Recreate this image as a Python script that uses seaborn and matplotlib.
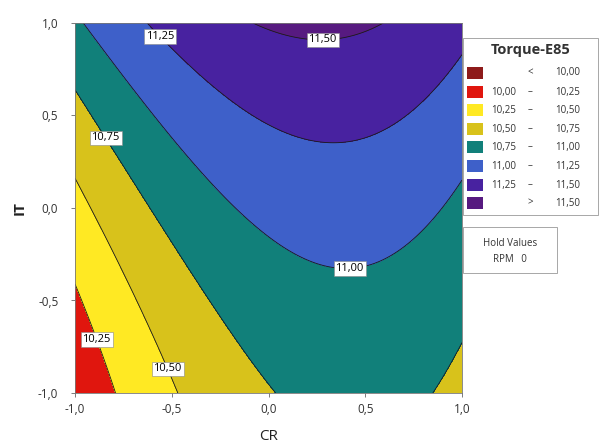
import numpy as np
import matplotlib
matplotlib.use("Agg")
import matplotlib.pyplot as plt
import seaborn as sns
from matplotlib.patches import Rectangle

sns.set_theme(style="white")
plt.rcParams['font.family'] = ['Open Sans', 'DejaVu Sans']

# ---- readings from the reference: points on each contour line (CR, IT) ----
cr_1025 = [-1.0, -0.897, -0.752]
it_1025 = [-0.389, -0.714, -1.0]

cr_1050 = [-1.0, -0.929, -0.767, -0.545, -0.473]
it_1050 = [0.205, 0.043, -0.335, -0.784, -1.0]

cr_1075 = [-1.0, -0.767, -0.716, -0.421, -0.251, -0.044, 0.034, 1.0, 0.85]
it_1075 = [0.6, 0.259, 0.151, -0.297, -0.568, -0.892, -1.0, -0.741, -1.0]

cr_1100 = [-0.922, -0.597, -0.339, -0.080, 0.163, 0.354, 0.643, 0.819, 0.922, 1.0]
it_1100 = [1.0, 0.514, 0.151, -0.081, -0.319, -0.346, -0.227, -0.081, 0.043, 0.162]

cr_1125 = [-0.680, -0.457, -0.225, 0.008, 0.214, 0.421, 0.643, 0.819, 0.99]
it_1125 = [1.0, 0.838, 0.6, 0.43, 0.335, 0.368, 0.465, 0.622, 0.8]

cr_1150 = [0.0, 0.28, 0.6]
it_1150 = [1.0, 0.925, 1.0]

# corner readings (CR, IT, Torque)
cr_corner = [-1.0, -1.0, 1.0]
it_corner = [-1.0, 1.0, 1.0]
z_corner = [10.08, 10.97, 11.33]

levels = [10.00, 10.25, 10.50, 10.75, 11.00, 11.25, 11.50]
tick_vals = [-1.0, -0.5, 0.0, 0.5, 1.0]
tick_labels = ["-1,0", "-0,5", "0,0", "0,5", "1,0"]
legend_lo = ["", "10,00", "10,25", "10,50", "10,75", "11,00", "11,25", ""]
legend_sep = ["<", "\u2013", "\u2013", "\u2013", "\u2013", "\u2013", "\u2013", ">"]
legend_hi = ["10,00", "10,25", "10,50", "10,75", "11,00", "11,25", "11,50", "11,50"]
colors = ["#8E1B1B", "#E0160E", "#FFE923", "#D8C21B", "#11807A",
          "#3E60C9", "#4822A0", "#571A80"]

# ---- response surface fitted (least squares) to the readings ----
cr_all = np.array(cr_1025 + cr_1050 + cr_1075 + cr_1100 + cr_1125 + cr_1150 + cr_corner)
it_all = np.array(it_1025 + it_1050 + it_1075 + it_1100 + it_1125 + it_1150 + it_corner)
z_all = np.array([10.25] * len(cr_1025) + [10.50] * len(cr_1050) + [10.75] * len(cr_1075)
                 + [11.00] * len(cr_1100) + [11.25] * len(cr_1125) + [11.50] * len(cr_1150)
                 + z_corner)


def terms(x, y):
    return np.stack([np.ones_like(x), x, y, x * x, x * y, y * y,
                     x ** 3, x * x * y, x * y * y, y ** 3], axis=-1)


coef, *_ = np.linalg.lstsq(terms(cr_all, it_all), z_all, rcond=None)

g = np.linspace(-1, 1, 301)
X, Y = np.meshgrid(g, g)
Z = terms(X, Y) @ coef

fig = plt.figure(figsize=(6, 4.44), dpi=100)
ax = fig.add_axes([75 / 600, 1 - 393 / 444, 387 / 600, 370 / 444])

fill_levels = [min(Z.min(), 9.9) - 1] + levels + [max(Z.max(), 11.6) + 1]
ax.contourf(X, Y, Z, levels=fill_levels, colors=colors)
cs = ax.contour(X, Y, Z, levels=levels, colors="#1a1a1a", linewidths=0.6)


def fmt(v):
    return f"{v:.2f}".replace(".", ",")


label_pos = [(-0.59, 0.90), (0.28, 0.91), (-0.90, 0.34), (0.42, -0.335),
             (-0.90, -0.714), (-0.535, -0.876)]
lbls = ax.clabel(cs, fmt=fmt, manual=label_pos, inline=False, fontsize=8,
                 colors="black")
for t in lbls:
    t.set_bbox(dict(facecolor="white", edgecolor="#888888", pad=1.3, linewidth=0.4))
    t.set_rotation(0)

ax.set_xlim(-1, 1)
ax.set_ylim(-1, 1)
ax.set_xticks(tick_vals)
ax.set_xticklabels(tick_labels, fontsize=8.5, color="#333333")
ax.set_yticks(tick_vals)
ax.set_yticklabels(tick_labels, fontsize=8.5, color="#333333")
ax.tick_params(axis="both", length=3, width=0.6, color="#666666",
               bottom=True, left=True)
ax.tick_params(axis="x", pad=4.5)
ax.tick_params(axis="y", pad=9)
ax.set_xlabel("CR", fontsize=11, labelpad=9, color="#222222")
ax.set_ylabel("IT", fontsize=11, labelpad=8, color="#222222", fontweight="bold")
for s in ax.spines.values():
    s.set_linewidth(0.6)
    s.set_color("#777777")

# ---- legend box (figure pixel coords) ----
W, H = 600, 444


def fx(px):
    return px / W


def fy(py):
    return 1 - py / H


fig.patches.append(Rectangle((fx(463), fy(215)), fx(598) - fx(463), fy(38) - fy(215),
                             transform=fig.transFigure, facecolor="white",
                             edgecolor="#999999", linewidth=0.6))
fig.text(fx(531), fy(50), "Torque-E85", ha="center", va="center", fontsize=10.5,
         fontweight="bold", color="#333333")
row_y = [73, 92, 110, 129, 147, 166, 185, 203]
for i in range(8):
    yy = row_y[i]
    fig.patches.append(Rectangle((fx(467), fy(yy + 6)), fx(16), 12 / H,
                                 transform=fig.transFigure, facecolor=colors[i],
                                 edgecolor="none"))
    fig.text(fx(516), fy(yy), legend_lo[i], ha="right", va="center", fontsize=7,
             color="#333333")
    fig.text(fx(530), fy(yy), legend_sep[i], ha="center", va="center", fontsize=7,
             color="#333333")
    fig.text(fx(580), fy(yy), legend_hi[i], ha="right", va="center", fontsize=7,
             color="#333333")

fig.patches.append(Rectangle((fx(463), fy(273)), fx(557) - fx(463), fy(227) - fy(273),
                             transform=fig.transFigure, facecolor="white",
                             edgecolor="#999999", linewidth=0.6))
fig.text(fx(510), fy(243), "Hold Values", ha="center", va="center", fontsize=7,
         color="#333333")
fig.text(fx(510), fy(260), "RPM   0", ha="center", va="center", fontsize=7,
         color="#333333")

fig.savefig("out.png", dpi=100)
